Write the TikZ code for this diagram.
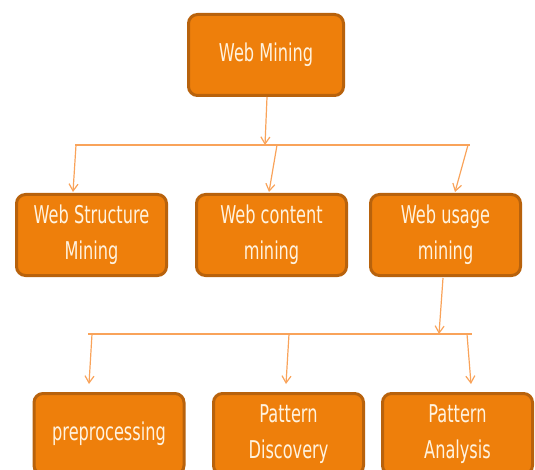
\documentclass[tikz,border=0pt]{standalone}
\usepackage{fontspec}
\newfontfamily\boxfont[FakeStretch=0.66]{DejaVu Sans}
\usetikzlibrary{arrows.meta}
\definecolor{boxfill}{HTML}{EE7F0B}
\definecolor{boxedge}{HTML}{B8620C}
\definecolor{linkclr}{HTML}{F9A35A}
\definecolor{labelclr}{HTML}{FFF3E0}
\begin{document}
\begin{tikzpicture}[x=1pt,y=-1pt,
  stage/.style={draw=boxedge, line width=3pt, fill=boxfill, rounded corners=9pt,
    minimum width=150pt, minimum height=81pt, text=labelclr, inner sep=0pt,
    font=\boxfont\fontsize{24.5}{36}\selectfont, align=center},
  link/.style={draw=linkclr, line width=1.2pt, -{Straight Barb[length=7pt,width=9pt]}},
  bus/.style={draw=linkclr, line width=2.5pt}]
\useasboundingbox (0,0) rectangle (535,470);
\clip (0,0) rectangle (535,470);

% boxes
\node[stage, minimum width=155pt] (wm) at (266,55) {Web Mining};
\node[stage] (ws) at (91.5,235) {Web Structure\\Mining};
\node[stage] (wc) at (271.5,235) {Web content\\mining};
\node[stage] (wu) at (445.5,235) {Web usage\\mining};
\node[stage] (pp) at (109,434) {preprocessing};
\node[stage] (pd) at (288.5,434) {Pattern\\Discovery};
\node[stage] (pa) at (457.5,434) {Pattern\\Analysis};

% first level bus
\coordinate (b1l) at (75,145);
\coordinate (b1r) at (470,145);
\coordinate (b1in) at (265,145);
\coordinate (b1a) at (76,145);
\coordinate (b1b) at (277,145);
\coordinate (b1c) at (468,145);
\coordinate (wsin) at (73,192);
\coordinate (wcin) at (269,192);
\coordinate (wuin) at (455,192);
\coordinate (wmout) at (267,97);
\draw[bus] (b1l) -- (b1r);
\draw[link] (wmout) -- (b1in);
\draw[link] (b1a) -- (wsin);
\draw[link] (b1b) -- (wcin);
\draw[link] (b1c) -- (wuin);

% second level bus
\coordinate (wuout) at (443,278);
\coordinate (b2l) at (88,334);
\coordinate (b2r) at (472,334);
\coordinate (b2in) at (439,334);
\coordinate (b2a) at (92,334);
\coordinate (b2b) at (289,334);
\coordinate (b2c) at (467,334);
\coordinate (ppin) at (89,384);
\coordinate (pdin) at (286,384);
\coordinate (pain) at (471,384);
\draw[bus] (b2l) -- (b2r);
\draw[link] (wuout) -- (b2in);
\draw[link] (b2a) -- (ppin);
\draw[link] (b2b) -- (pdin);
\draw[link] (b2c) -- (pain);
\end{tikzpicture}
\end{document}
